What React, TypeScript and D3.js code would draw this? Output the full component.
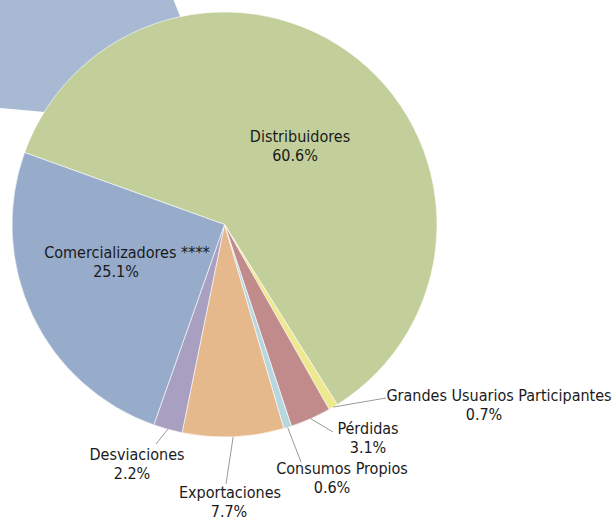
import { useEffect, useRef } from "react";
import * as d3 from "d3";

// order goes clockwise starting at the Comercializadores / Distribuidores edge
const categories = [
  "Distribuidores",
  "Grandes Usuarios Participantes",
  "Pérdidas",
  "Consumos Propios",
  "Exportaciones",
  "Desviaciones",
  "Comercializadores ****",
];
const shares = [60.6, 0.7, 3.1, 0.6, 7.7, 2.2, 25.1];
const colors = ["#c3cf9a", "#eee88e", "#c28b8b", "#b6d7e0", "#e6b98c", "#a89fc1", "#97abcb"];

// label layout: centre x for each line, first baseline, optional leader line end
const labelLayout = [
  { x1: 300, x2: 295, y: 142, line: null },
  { x1: 499, x2: 484, y: 401, line: [386, 398] },
  { x1: 368, x2: 368, y: 434, line: [333, 432] },
  { x1: 342, x2: 332, y: 474, line: [301, 462] },
  { x1: 230, x2: 229, y: 498, line: [226, 484] },
  { x1: 137, x2: 132, y: 460, line: [156, 444] },
  { x1: 127, x2: 116, y: 258, line: null },
];

const W = 615;
const H = 519;

const App = () => {
  const ref = useRef<SVGSVGElement>(null);

  useEffect(() => {
    const svg = d3.select(ref.current);
    svg.selectAll("*").remove();

    const cx = 224.5;
    const cy = 224.5;
    const radius = 212.5;
    const toRad = (d: number) => (d * Math.PI) / 180;

    // faded slice sitting behind the pie in the top-left corner
    svg
      .append("path")
      .attr("transform", `translate(${cx},128)`)
      .attr(
        "d",
        d3.arc()({ innerRadius: 0, outerRadius: 400, startAngle: toRad(-84.9), endAngle: toRad(-21.7) }) as string
      )
      .attr("fill", "#a8bad3");

    const pie = d3
      .pie<number>()
      .sort(null)
      .value((d) => d)
      .startAngle(toRad(-70.2))
      .endAngle(toRad(-70.2) + Math.PI * 2);

    const arc = d3.arc<d3.PieArcDatum<number>>().innerRadius(0).outerRadius(radius);
    const arcs = pie(shares);

    const g = svg.append("g").attr("transform", `translate(${cx},${cy})`);

    g.selectAll("path")
      .data(arcs)
      .enter()
      .append("path")
      .attr("d", arc)
      .attr("fill", (_, i) => colors[i])
      .attr("stroke", "#ffffff")
      .attr("stroke-width", 0.6);

    // leader lines
    arcs.forEach((a, i) => {
      const lay = labelLayout[i];
      if (!lay.line) return;
      const mid = (a.startAngle + a.endAngle) / 2;
      const sx = cx + Math.sin(mid) * radius;
      const sy = cy - Math.cos(mid) * radius;
      svg
        .append("line")
        .attr("x1", sx)
        .attr("y1", sy)
        .attr("x2", lay.line[0])
        .attr("y2", lay.line[1])
        .attr("stroke", "#9a9a9a")
        .attr("stroke-width", 1);
    });

    const fmt = d3.format(".1f");
    categories.forEach((c, i) => {
      const lay = labelLayout[i];
      const txt = (x: number, y: number, s: string) =>
        svg
          .append("text")
          .attr("x", x)
          .attr("y", y)
          .attr("font-family", "'DejaVu Sans Condensed', sans-serif")
          .attr("font-stretch", "condensed")
          .attr("font-size", 16)
          .attr("fill", "#1a1a1a")
          .attr("text-anchor", "middle")
          .text(s);
      txt(lay.x1, lay.y, c);
      txt(lay.x2, lay.y + 19, fmt(shares[i]) + "%");
    });
  }, []);

  return (
    <svg
      ref={ref}
      width={W}
      height={H}
      style={{ position: "fixed", left: 0, top: 0, background: "#ffffff" }}
    ></svg>
  );
};

export default App;
